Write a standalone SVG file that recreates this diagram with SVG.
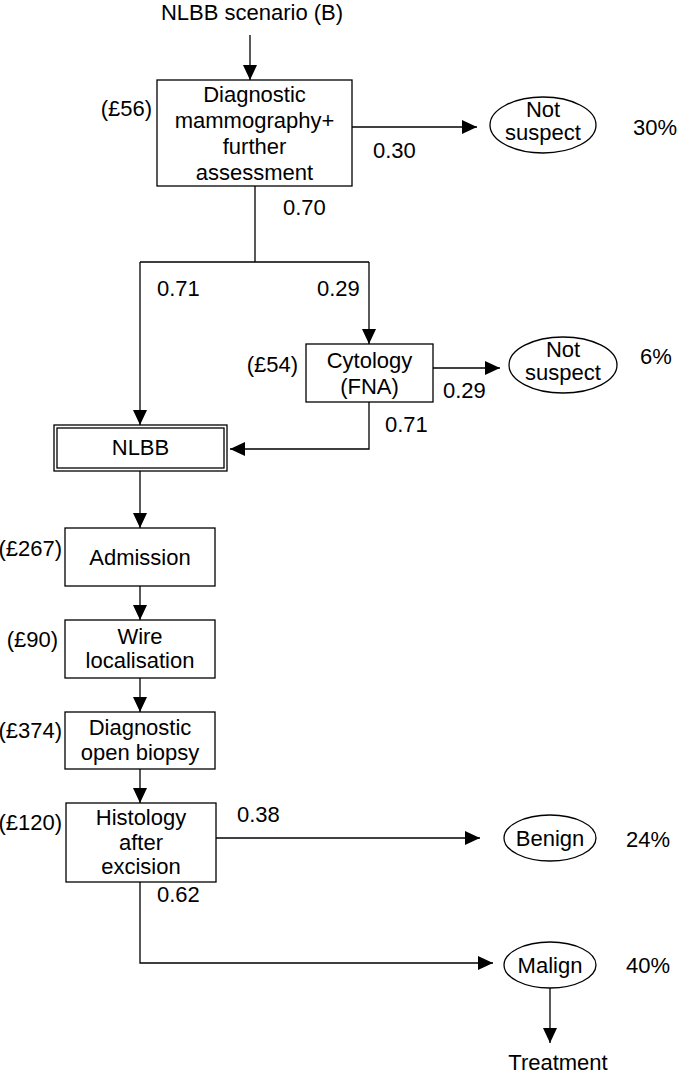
<svg xmlns="http://www.w3.org/2000/svg" width="677" height="1075" viewBox="0 0 677 1075">
<defs>
<marker id="ah" markerUnits="userSpaceOnUse" markerWidth="15" markerHeight="14" refX="15" refY="7" orient="auto">
<path d="M0,0 L15,7 L0,14 z" fill="#000"/>
</marker>
<style>
text{font-family:"Liberation Sans",Arial,sans-serif;font-size:22px;fill:#000}
.c{text-anchor:middle}
.e{text-anchor:end}
.box{fill:#fff;stroke:#000;stroke-width:1.3}
.ell{fill:#fff;stroke:#000;stroke-width:1.3}
.ln{fill:none;stroke:#000;stroke-width:1.3}
.ar{fill:none;stroke:#000;stroke-width:1.3;marker-end:url(#ah)}
</style>
</defs>
<rect width="677" height="1075" fill="#fff"/>
<text class="c" x="252" y="20">NLBB scenario (B)</text>

<g id="connectors">
<path class="ar" d="M250,35 V80"/>
<path class="ar" d="M352,127 H477"/>
<path class="ln" d="M255,186 V262 M140,262 H369"/>
<path class="ar" d="M140,262 V425"/>
<path class="ar" d="M369,262 V344"/>
<path class="ar" d="M433,368 H500"/>
<path class="ar" d="M369,402 V449 H230"/>
<path class="ar" d="M140,471 V528"/>
<path class="ar" d="M140,586 V620"/>
<path class="ar" d="M140,678 V712"/>
<path class="ar" d="M140,769 V803"/>
<path class="ar" d="M216,838 H480"/>
<path class="ar" d="M140,882 V963 H493"/>
<path class="ar" d="M550,987 V1043"/>
</g>

<g id="labels">
<text x="373" y="158">0.30</text>
<text x="283" y="215">0.70</text>
<text x="157" y="296">0.71</text>
<text x="317" y="296">0.29</text>
<text x="443" y="398">0.29</text>
<text x="385" y="432">0.71</text>
<text x="237" y="822">0.38</text>
<text x="157" y="902">0.62</text>
<text class="e" x="152" y="116">(£56)</text>
<text class="e" x="298" y="372">(£54)</text>
<text class="e" x="62" y="556">(£267)</text>
<text class="e" x="58" y="647">(£90)</text>
<text class="e" x="62" y="738">(£374)</text>
<text class="e" x="62" y="830">(£120)</text>
<text x="633" y="135">30%</text>
<text x="640" y="364">6%</text>
<text x="626" y="847">24%</text>
<text x="626" y="973">40%</text>
<text class="c" x="558" y="1070">Treatment</text>
</g>

<g id="n-diag">
<rect class="box" x="157" y="80" width="195" height="106"/>
<text class="c" x="254.5" y="102">Diagnostic</text>
<text class="c" x="254.5" y="128">mammography+</text>
<text class="c" x="254.5" y="154">further</text>
<text class="c" x="254.5" y="180">assessment</text>
</g>
<g id="n-ns1">
<ellipse class="ell" cx="543" cy="125" rx="53" ry="28"/>
<text class="c" x="543" y="117">Not</text>
<text class="c" x="543" y="140">suspect</text>
</g>
<g id="n-cyt">
<rect class="box" x="306" y="344" width="127" height="58"/>
<text class="c" x="369.5" y="368">Cytology</text>
<text class="c" x="369.5" y="394">(FNA)</text>
</g>
<g id="n-ns2">
<ellipse class="ell" cx="563" cy="365" rx="54" ry="28"/>
<text class="c" x="563" y="357">Not</text>
<text class="c" x="563" y="380">suspect</text>
</g>
<g id="n-nlbb">
<rect class="box" x="54" y="425" width="173" height="46"/>
<rect class="box" x="57" y="428" width="167" height="40"/>
<text class="c" x="140.5" y="455">NLBB</text>
</g>
<g id="n-adm">
<rect class="box" x="65" y="528" width="150" height="58"/>
<text class="c" x="140" y="565">Admission</text>
</g>
<g id="n-wire">
<rect class="box" x="65" y="620" width="150" height="58"/>
<text class="c" x="140" y="644">Wire</text>
<text class="c" x="140" y="668">localisation</text>
</g>
<g id="n-biopsy">
<rect class="box" x="65" y="712" width="150" height="57"/>
<text class="c" x="140" y="735">Diagnostic</text>
<text class="c" x="140" y="760">open biopsy</text>
</g>
<g id="n-hist">
<rect class="box" x="66" y="803" width="150" height="79"/>
<text class="c" x="141" y="825">Histology</text>
<text class="c" x="141" y="850">after</text>
<text class="c" x="141" y="874">excision</text>
</g>
<g id="n-benign">
<ellipse class="ell" cx="550" cy="838" rx="46" ry="23"/>
<text class="c" x="550" y="846">Benign</text>
</g>
<g id="n-malign">
<ellipse class="ell" cx="550" cy="965" rx="46" ry="23"/>
<text class="c" x="550" y="973">Malign</text>
</g>
</svg>
